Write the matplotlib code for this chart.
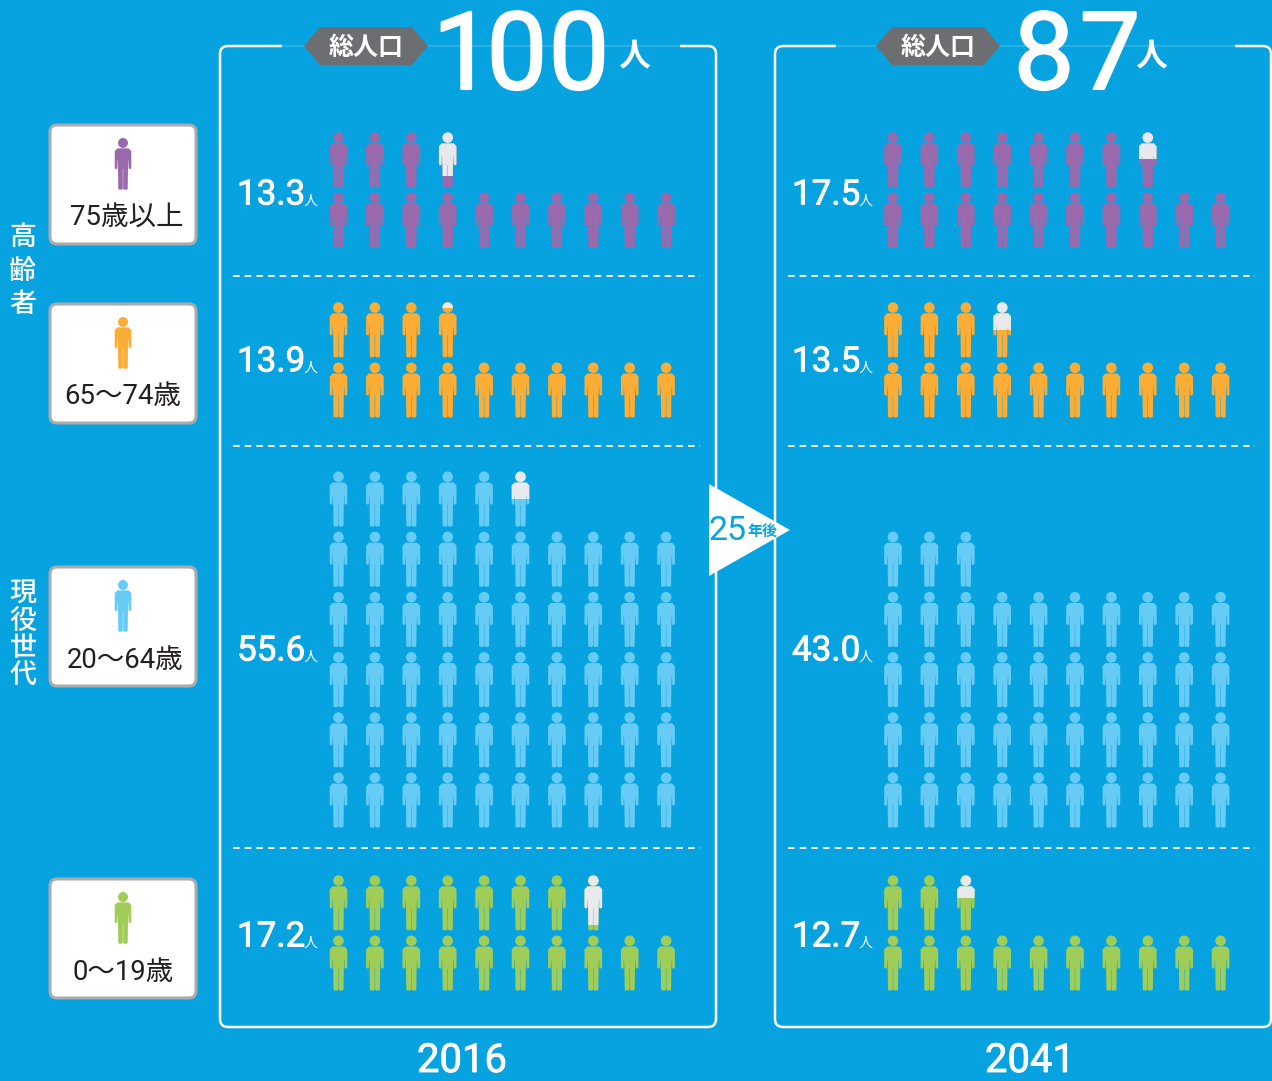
"""
plot.py
Population per 100 people by age group, 2016 vs 2041, drawn as person icons.
"""
import math

import matplotlib
matplotlib.use("Agg")
import matplotlib.pyplot as plt
import matplotlib.patheffects as pe
from matplotlib.patches import FancyBboxPatch, PathPatch, Polygon, Rectangle
from matplotlib.path import Path
from matplotlib.transforms import Affine2D

# data
age_labels = ["75歳以上", "65～74歳", "20～64歳", "0～19歳"]
side_labels = ["高齢者", "現役世代"]
years = ["2016", "2041"]
totals = ["100", "87"]
values_2016 = [13.3, 13.9, 55.6, 17.2]
values_2041 = [17.5, 13.5, 43.0, 12.7]
# how much of the last, partial icon is coloured (as drawn, not quite the decimal)
fill_2016 = [0.20, 0.90, 0.50, 0.10]
fill_2041 = [0.51, 0.50, 1.00, 0.58]

BG = "#07a3e0"
COLORS = ["#9b6aad", "#fbad35", "#66ccf5", "#a0cd57"]
EMPTY = "#e8e9ec"
FONT = ["Roboto", "Noto Sans CJK JP"]
KANJI = ["Noto Sans CJK JP"]


def px(size):
    # pixel height to points at dpi 100
    return size * 0.72


def person_path():
    right = [(0, 11), (6, 11), (8.8, 14), (8.8, 32), (7.8, 33), (6.6, 33), (6.0, 32),
             (6.0, 24), (5.7, 24), (5.3, 33), (5.0, 54), (4.2, 55), (1.2, 55),
             (0.2, 54), (0.2, 33), (0, 33)]
    left = [(-x, y) for x, y in reversed(right)]
    verts = right + left[1:]
    body = Path(verts + [verts[0]], closed=True)
    head = Path.unit_circle().transformed(Affine2D().scale(5.3).translate(0, 5.3))
    return Path.make_compound_path(body, head)


PERSON = person_path()


def draw_person(ax, cx, top, color, scale=1.0, zorder=3):
    tr = Affine2D().scale(scale).translate(cx, top) + ax.transData
    patch = PathPatch(PERSON, transform=tr, fc=color, ec="none", zorder=zorder)
    ax.add_patch(patch)
    return patch


def draw_panel(ax, x0, x1, gap0, gap1, year, total, digit_x, unit_x, tag_x, year_x, first_x, values, fills):
    y0, y1, r = 46, 1027, 8
    verts = [(gap0, y0), (x0 + r, y0), (x0, y0), (x0, y0 + r), (x0, y1 - r), (x0, y1), (x0 + r, y1),
             (x1 - r, y1), (x1, y1), (x1, y1 - r), (x1, y0 + r), (x1, y0), (x1 - r, y0), (gap1, y0)]
    codes = [Path.MOVETO, Path.LINETO, Path.CURVE3, Path.CURVE3, Path.LINETO, Path.CURVE3, Path.CURVE3,
             Path.LINETO, Path.CURVE3, Path.CURVE3, Path.LINETO, Path.CURVE3, Path.CURVE3, Path.LINETO]
    ax.add_patch(PathPatch(Path(verts, codes), fc="none", ec="white", lw=1.8, zorder=2))
    ax.plot([gap0, gap1], [y0, y0], color="white", lw=1.5, alpha=0.15, zorder=1)

    # grey tag and the big total
    tx = tag_x
    ax.add_patch(Polygon([(tx - 62, 46), (tx - 46, 27), (tx + 46, 27), (tx + 62, 46), (tx + 46, 65), (tx - 46, 65)],
                         fc="#6d6e72", ec="none", zorder=3))
    ax.text(tx, 48, "総人口", color="white", fontsize=px(25), fontweight="bold", family=KANJI,
            ha="center", va="center", zorder=4)
    # digits placed one by one, the original face is narrower than Roboto
    for digit, dx in zip(total, digit_x):
        ax.text(dx, 89, digit, color="white", fontsize=px(108), family=FONT, ha="center", va="baseline", zorder=4,
                path_effects=[pe.withStroke(linewidth=1.5, foreground="white")])
    ax.text(unit_x, 57, "人", color="white", fontsize=px(32), fontweight="bold", family=KANJI,
            ha="center", va="center", zorder=4)
    ax.text(year_x, 1072, year, color="white", fontsize=px(40), family=FONT, ha="center", va="baseline", zorder=4,
            path_effects=[pe.withStroke(linewidth=0.6, foreground="white")])

    # separators
    for y in [276, 446, 848]:
        ax.plot([x0 + 13, x1 - 16], [y, y], color="white", lw=1.4, ls=(0, (3.4, 2.6)), zorder=2)

    # icons, filling up from the bottom row, left to right
    bottom_rows = [192.5, 362.5, 772.5, 935.5]
    label_y = [195, 362, 651, 937]
    for i, value in enumerate(values):
        n = math.ceil(value)
        for k in range(n):
            row, col = k // 10, k % 10
            cx = first_x + col * 36.4
            top = bottom_rows[i] - row * 60.2
            draw_person(ax, cx, top, COLORS[i])
            if k == n - 1 and fills[i] < 1:
                over = draw_person(ax, cx, top, EMPTY, zorder=4)
                clip = Rectangle((cx - 15, top - 2), 30, 57 - 55 * fills[i], transform=ax.transData)
                over.set_clip_path(clip)
        lx = x0 + 17
        t = ax.text(lx, label_y[i], f"{value:.1f}", color="white", fontsize=px(35), family=FONT,
                    ha="left", va="center", zorder=4,
                    path_effects=[pe.withStroke(linewidth=0.6, foreground="white")])
        ax.figure.canvas.draw()
        bb = t.get_window_extent().transformed(ax.transData.inverted())
        ax.text(bb.x1 + 5, label_y[i] + 6, "人", color="white", fontsize=px(14), family=KANJI,
                ha="center", va="center", zorder=4)


fig = plt.figure(figsize=(12.72, 10.81), dpi=100, facecolor=BG)
ax = fig.add_axes([0, 0, 1, 1])
ax.set_xlim(0, 1272)
ax.set_ylim(1081, 0)
ax.axis("off")

draw_panel(ax, 220, 716, 282, 680, years[0], totals[0], [463, 517, 579], 634, 366, 462, 338.5,
           values_2016, fill_2016)
draw_panel(ax, 775, 1271, 836, 1235, years[1], totals[1], [1044, 1110], 1151, 938, 1030, 893,
           values_2041, fill_2041)

# legend cards
card_tops = [124, 303, 566, 878]
label_x = [127, 123, 125, 123]
for label, top, color, lab_x in zip(age_labels, card_tops, COLORS, label_x):
    ax.add_patch(FancyBboxPatch((50, top + 1), 146, 119, boxstyle="round,pad=0,rounding_size=7",
                                fc="white", ec="#a9abae", lw=2.2, zorder=3))
    draw_person(ax, 123, top + 14, color, scale=0.94, zorder=4)
    ax.text(lab_x, top + 94, label, color="#231f20", fontsize=px(27.5), family=FONT,
            ha="center", va="center", zorder=4)

# vertical side labels
for ch, y in zip(side_labels[0], [237, 271, 305]):
    ax.text(23, y, ch, color="white", fontsize=px(27), fontweight="medium", family=KANJI,
            ha="center", va="center", zorder=4)
for ch, y in zip(side_labels[1], [594, 622, 648, 675]):
    ax.text(23, y, ch, color="white", fontsize=px(27), fontweight="medium", family=KANJI,
            ha="center", va="center", zorder=4)

# arrow between the panels
ax.add_patch(Polygon([(709, 484), (709, 576), (790, 530)], fc="white", ec="none", zorder=5))
ax.text(727, 531, "25", color=BG, fontsize=px(34), family=FONT, ha="center", va="center", zorder=6)
ax.text(762, 531, "年後", color=BG, fontsize=px(15), fontweight="bold", family=KANJI,
        ha="center", va="center", zorder=6)

fig.savefig("out.png", dpi=100, facecolor=BG)
